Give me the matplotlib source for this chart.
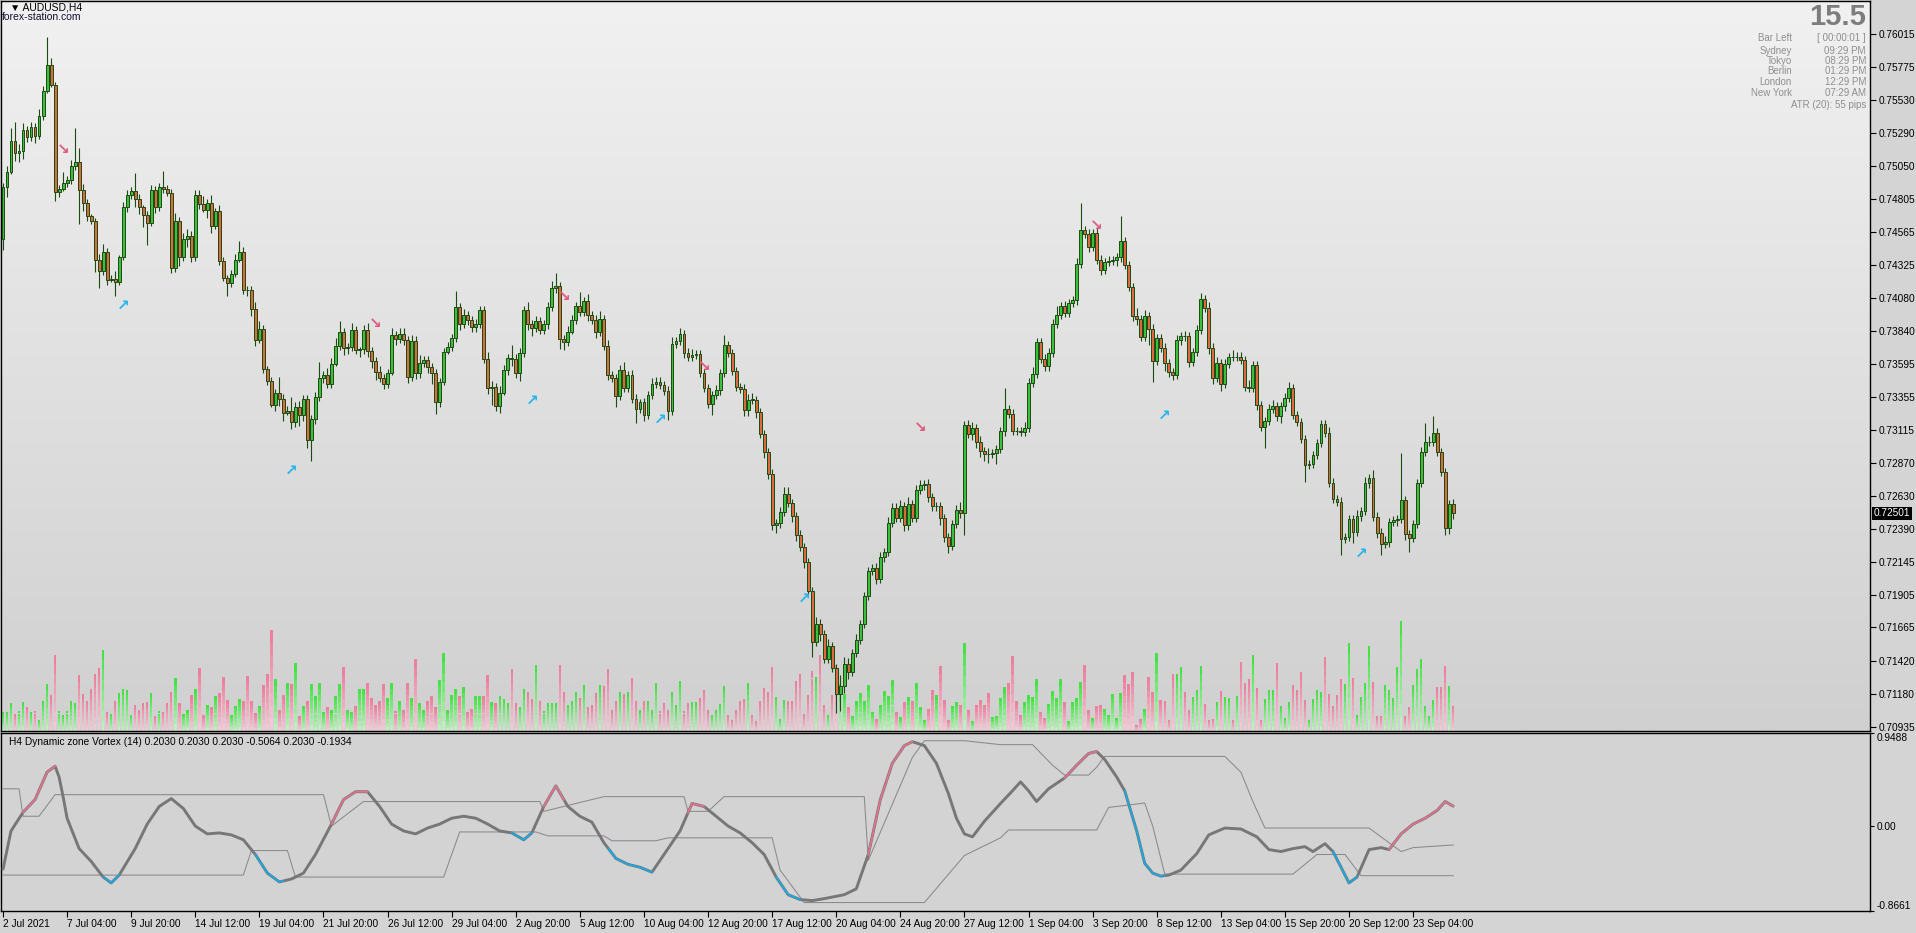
import numpy as np
import matplotlib
matplotlib.use("Agg")
import matplotlib.pyplot as plt
import matplotlib.transforms as mtransforms
from matplotlib.colors import to_rgb

plt.rcParams['font.family'] = ['Liberation Sans', 'DejaVu Sans']

# ---- price data (AUDUSD H4), closes in 1e-5 units, open of bar 0 ----
OPEN0 = 74515
CLOSE = [
    74891, 75006, 75228, 75146, 75159, 75313, 75261, 75333, 75267, 75415, 75594, 75791, 75644, 74858, 74881, 74924, 74947, 75048, 75078, 74875,
    74776, 74678, 74646, 74361, 74276, 74417, 74214, 74220, 74194, 74377, 74744, 74832, 74865, 74809, 74744, 74688, 74629, 74868, 74750, 74891,
    74881, 74848, 74302, 74646, 74384, 74515, 74538, 74384, 74832, 74770, 74727, 74776, 74606, 74718, 74351, 74227, 74188, 74253, 74361, 74417,
    74138, 74135, 74001, 73769, 73851, 73559, 73474, 73298, 73383, 73337, 73239, 73255, 73173, 73278, 73222, 73337, 73042, 73190, 73353, 73494,
    73517, 73451, 73599, 73729, 73828, 73713, 73720, 73844, 73697, 73703, 73844, 73690, 73615, 73540, 73491, 73451, 73533, 73811, 73779, 73818,
    73769, 73500, 73762, 73533, 73605, 73625, 73572, 73533, 73320, 73461, 73687, 73720, 73788, 74014, 73893, 73958, 73919, 73864, 73893, 73991,
    73631, 73419, 73428, 73288, 73386, 73549, 73638, 73631, 73533, 73680, 73991, 73886, 73860, 73909, 73844, 73886, 74014, 74155, 74165, 73779,
    73756, 73834, 73919, 74024, 73975, 74057, 73952, 73919, 73834, 73926, 73729, 73517, 73491, 73363, 73549, 73419, 73513, 73343, 73265, 73320,
    73222, 73370, 73451, 73461, 73442, 73396, 73255, 73746, 73762, 73818, 73680, 73648, 73664, 73670, 73533, 73419, 73304, 73370, 73402, 73533,
    73736, 73678, 73544, 73426, 73416, 73256, 73335, 73333, 73243, 73081, 72950, 72793, 72418, 72431, 72510, 72641, 72578, 72479, 72342, 72256,
    72143, 71934, 71557, 71688, 71615, 71431, 71531, 71366, 71175, 71235, 71400, 71340, 71478, 71575, 71688, 71895, 72081, 72099, 72020, 72185,
    72217, 72434, 72544, 72465, 72552, 72413, 72570, 72465, 72670, 72706, 72714, 72623, 72552, 72557, 72465, 72329, 72264, 72426, 72526, 72505,
    73146, 73086, 73128, 73028, 72955, 72937, 72934, 72942, 72971, 73102, 73269, 73233, 73107, 73104, 73099, 73128, 73460, 73521, 73754, 73630,
    73578, 73675, 73887, 73958, 74018, 73971, 74044, 74062, 74332, 74578, 74547, 74455, 74555, 74358, 74285, 74343, 74350, 74356, 74377, 74500,
    74324, 74159, 73945, 73924, 73795, 73945, 73853, 73617, 73788, 73717, 73604, 73534, 73518, 73769, 73801, 73798, 73612, 73683, 73845, 74070,
    74010, 73717, 73492, 73604, 73447, 73596, 73649, 73646, 73651, 73623, 73429, 73421, 73586, 73298, 73133, 73178, 73264, 73290, 73217, 73285,
    73350, 73421, 73225, 73172, 73049, 72858, 72863, 72929, 73015, 73159, 73094, 72727, 72604, 72588, 72314, 72327, 72458, 72366, 72484, 72518,
    72727, 72761, 72473, 72361, 72274, 72295, 72439, 72452, 72458, 72596, 72348, 72321, 72426, 72722, 72950, 73023, 73028, 73094, 72950, 72806,
    72392, 72570, 72501,
]
# upper / lower wicks in pips
WICK_UP = [
    3, 4, 10, 14, 5, 5, 3, 4, 3, 5, 4, 20, 5, 2, 3, 8, 3, 4, 25, 10,
    4, 3, 2, 2, 4, 6, 3, 3, 6, 2, 4, 4, 3, 13, 3, 2, 3, 4, 3, 3,
    12, 3, 3, 6, 3, 4, 5, 3, 4, 4, 6, 3, 6, 2, 4, 3, 2, 3, 4, 8,
    4, 3, 3, 5, 6, 3, 2, 3, 3, 12, 4, 3, 10, 4, 5, 3, 3, 3, 4, 12,
    3, 5, 4, 6, 8, 3, 3, 5, 3, 2, 4, 5, 3, 3, 4, 3, 3, 5, 3, 4,
    4, 3, 5, 4, 6, 3, 3, 3, 3, 3, 3, 4, 3, 12, 3, 4, 3, 3, 3, 3,
    3, 5, 4, 3, 5, 4, 3, 10, 4, 3, 3, 6, 3, 4, 3, 3, 4, 5, 10, 3,
    3, 4, 4, 3, 10, 3, 5, 3, 4, 6, 3, 4, 3, 3, 4, 6, 3, 4, 3, 2,
    3, 3, 4, 4, 4, 3, 4, 5, 3, 4, 3, 3, 4, 3, 3, 3, 3, 3, 4, 3,
    7, 3, 3, 3, 3, 3, 4, 5, 3, 3, 3, 3, 3, 3, 4, 5, 5, 3, 3, 4,
    3, 3, 3, 5, 4, 3, 5, 3, 3, 8, 5, 4, 3, 4, 3, 3, 3, 3, 4, 3,
    3, 4, 3, 3, 5, 3, 5, 3, 4, 4, 3, 4, 3, 3, 3, 3, 3, 3, 4, 6,
    3, 4, 4, 3, 4, 3, 4, 3, 3, 3, 15, 3, 3, 3, 3, 4, 3, 5, 3, 3,
    4, 4, 4, 6, 3, 4, 3, 3, 4, 20, 3, 4, 3, 4, 4, 3, 4, 3, 3, 18,
    3, 3, 3, 6, 3, 5, 3, 4, 3, 3, 3, 3, 3, 4, 3, 4, 3, 3, 4, 5,
    3, 4, 3, 4, 3, 4, 3, 5, 3, 3, 3, 5, 3, 3, 3, 3, 4, 4, 3, 3,
    3, 4, 3, 3, 3, 3, 3, 3, 3, 3, 3, 4, 3, 3, 3, 3, 3, 3, 4, 3,
    4, 3, 6, 4, 3, 4, 3, 3, 3, 35, 3, 3, 3, 3, 4, 14, 4, 12, 3, 3,
    3, 3, 4,
]
WICK_DN = [
    8, 7, 2, 6, 7, 6, 4, 3, 5, 2, 3, 1, 2, 7, 4, 2, 3, 3, 3, 25,
    6, 3, 2, 9, 12, 3, 4, 2, 10, 2, 2, 3, 3, 6, 5, 9, 16, 2, 5, 3,
    3, 2, 4, 3, 7, 3, 6, 4, 3, 4, 2, 6, 5, 2, 3, 2, 9, 3, 2, 2,
    3, 4, 5, 4, 2, 3, 3, 2, 5, 5, 6, 2, 5, 4, 8, 4, 6, 16, 3, 3,
    4, 3, 3, 2, 3, 5, 4, 3, 3, 5, 3, 4, 5, 6, 3, 4, 3, 2, 4, 3,
    3, 4, 3, 5, 4, 3, 4, 8, 9, 4, 2, 2, 3, 3, 5, 3, 4, 3, 3, 3,
    3, 4, 12, 4, 5, 2, 3, 5, 4, 6, 3, 4, 6, 3, 3, 3, 3, 3, 4, 7,
    6, 3, 2, 3, 3, 3, 4, 3, 5, 3, 3, 4, 3, 8, 3, 3, 3, 3, 10, 3,
    4, 3, 3, 3, 3, 3, 7, 3, 3, 3, 4, 3, 3, 3, 3, 3, 3, 8, 3, 3,
    3, 3, 3, 3, 3, 4, 4, 3, 4, 3, 4, 4, 4, 6, 4, 3, 3, 4, 4, 3,
    4, 4, 11, 3, 5, 3, 3, 3, 14, 12, 5, 5, 3, 3, 3, 3, 3, 3, 4, 3,
    4, 3, 3, 3, 3, 4, 3, 3, 3, 3, 3, 4, 3, 3, 5, 4, 5, 3, 3, 4,
    16, 3, 5, 5, 4, 5, 6, 3, 8, 3, 3, 3, 3, 3, 3, 3, 3, 3, 3, 3,
    3, 3, 3, 3, 3, 3, 3, 3, 3, 3, 3, 4, 3, 3, 4, 3, 3, 3, 4, 3,
    3, 3, 3, 4, 3, 3, 12, 15, 3, 3, 6, 3, 4, 3, 3, 3, 4, 3, 3, 3,
    3, 5, 4, 3, 5, 3, 3, 3, 3, 3, 3, 3, 3, 4, 3, 15, 3, 3, 4, 5,
    3, 3, 3, 3, 3, 13, 3, 3, 3, 3, 3, 3, 3, 3, 12, 3, 3, 8, 3, 4,
    3, 4, 3, 4, 8, 3, 4, 3, 4, 3, 4, 10, 3, 3, 3, 3, 3, 3, 3, 3,
    5, 4, 4,
]
# tick volume, hundreds
VOLUME = [
    19,
    19, 28, 17, 20, 29, 24, 19, 20, 11, 30, 47, 36, 76, 20, 16, 20, 30, 28, 56, 37,
    30, 42, 57, 63, 81, 19, 17, 30, 38, 42, 41, 16, 26, 21, 28, 29, 38, 15, 20, 19,
    28, 39, 53, 28, 17, 21, 36, 42, 63, 16, 26, 24, 35, 38, 54, 31, 16, 25, 32, 30,
    55, 30, 18, 25, 46, 57, 101, 52, 21, 36, 48, 47, 68, 15, 25, 30, 47, 35, 48, 19,
    24, 21, 35, 47, 64, 21, 19, 25, 42, 42, 48, 33, 26, 30, 47, 33, 48, 20, 30, 21,
    48, 33, 72, 28, 21, 30, 35, 24, 51, 78, 21, 36, 42, 35, 44, 19, 22, 35, 35, 35,
    56, 29, 28, 35, 32, 28, 62, 28, 24, 42, 39, 32, 66, 30, 20, 28, 28, 28, 66, 39,
    26, 30, 39, 33, 46, 24, 26, 38, 46, 45, 62, 21, 30, 39, 37, 39, 53, 30, 21, 30,
    30, 21, 48, 20, 28, 21, 39, 26, 50, 20, 28, 29, 29, 33, 41, 21, 16, 21,
    27, 45, 16, 11, 21, 30, 32, 48, 16, 10, 30, 43, 39, 64, 34, 12, 31, 30, 30, 50,
    57, 17, 36, 60, 54, 76, 26, 16, 36, 66, 47, 37, 24, 15, 30, 38, 30, 46, 19, 12,
    26, 40, 35, 51, 19, 14, 29, 34, 30, 48, 24, 11, 22, 41, 36, 65, 31, 11, 25, 29,
    26, 88, 21, 10, 26, 31, 26, 38, 14, 15, 33, 44, 48, 75, 30, 16, 29, 36, 34, 52,
    19, 13, 27, 40, 33, 52, 29, 10, 29, 33, 49, 66, 21, 13, 25, 26, 22, 16, 37, 13,
    38, 56, 47, 59, 6, 12, 22, 54, 39, 78, 31, 30, 11, 57, 57, 64, 39, 21, 34, 41,
    65, 27, 11, 12, 29, 40, 34, 33, 11, 35, 69, 48, 52, 76, 43, 11, 32, 41, 41, 68,
    25, 13, 29, 46, 41, 59, 31, 11, 32, 41, 39, 74, 37, 25, 36, 52, 47, 88, 53, 16,
    34, 48, 85, 49, 15, 15, 46, 41, 33, 64, 110, 15, 24, 46, 62, 72, 25, 15, 31, 44,
    44, 65, 45, 25,
]

# signal arrows (bar, price)
SELL_BARS = [15, 93, 140, 175, 229, 273]
SELL_PRICES = [0.75172, 0.73890, 0.74088, 0.73577, 0.73130, 0.74608]
BUY_BARS = [30, 72, 132, 164, 200, 290, 339]
BUY_PRICES = [0.74026, 0.72818, 0.73328, 0.73194, 0.71878, 0.73222, 0.72211]

# ---- Dynamic zone Vortex (bar, value) ----
OSC = [(0, -0.44), (2, -0.05), (5, 0.14), (8, 0.27), (11, 0.55), (13, 0.61), (14, 0.50), (15, 0.30), (16, 0.08),
       (19, -0.23), (22, -0.36), (25, -0.52), (27, -0.58), (29, -0.50), (33, -0.23), (36, 0.02), (39, 0.20),
       (42, 0.28), (45, 0.18), (48, 0.00), (51, -0.08), (54, -0.07), (57, -0.09), (60, -0.14), (63, -0.29),
       (66, -0.48), (69, -0.57), (72, -0.54), (75, -0.48), (78, -0.29), (82, 0.02), (85, 0.27), (88, 0.35),
       (91, 0.35), (94, 0.20), (97, 0.02), (100, -0.05), (103, -0.08), (106, -0.02), (109, 0.02), (112, 0.08),
       (115, 0.10), (118, 0.08), (121, 0.02), (124, -0.05), (127, -0.07), (130, -0.14), (132, -0.07), (135, 0.20),
       (138, 0.41), (141, 0.20), (144, 0.10), (147, 0.04), (150, -0.17), (153, -0.33), (156, -0.39), (159, -0.42),
       (162, -0.47), (165, -0.29), (169, -0.05), (172, 0.23), (175, 0.20), (178, 0.10), (181, 0.00), (184, -0.07),
       (187, -0.17), (190, -0.29), (193, -0.52), (196, -0.70), (199, -0.75), (202, -0.76), (205, -0.74), (210, -0.70),
       (213, -0.64), (216, -0.29), (219, 0.27), (222, 0.64), (225, 0.82), (227, 0.86), (230, 0.82), (233, 0.64),
       (236, 0.33), (238, 0.08), (240, -0.08), (242, -0.11), (245, 0.05), (249, 0.23), (252, 0.36), (254, 0.45),
       (256, 0.36), (258, 0.25), (261, 0.38), (265, 0.49), (268, 0.62), (271, 0.74), (273, 0.76), (275, 0.68),
       (278, 0.50), (280, 0.36), (283, -0.05), (285, -0.38), (287, -0.48), (289, -0.51), (291, -0.50), (294, -0.45),
       (298, -0.28), (301, -0.09), (305, -0.02), (309, -0.03), (313, -0.11), (316, -0.24), (319, -0.26), (322, -0.23),
       (325, -0.21), (327, -0.26), (330, -0.18), (332, -0.26), (334, -0.42), (336, -0.58), (338, -0.52), (341, -0.24),
       (344, -0.22), (346, -0.24), (349, -0.08), (352, 0.02), (355, 0.08), (358, 0.16), (360, 0.25), (362, 0.203)]
UPPER_ZONE = [(0, 0.38), (4, 0.38), (5, 0.10), (9, 0.10), (13, 0.32), (80, 0.32), (82, 0.00), (90, 0.25), (134, 0.25),
              (135, 0.15), (140, 0.20), (150, 0.30), (170, 0.30), (171, 0.15), (176, 0.15), (180, 0.30), (215, 0.30),
              (216, -0.35), (227, 0.70), (230, 0.87), (240, 0.87), (249, 0.83), (257, 0.83), (262, 0.62), (265, 0.52),
              (271, 0.52), (273, 0.60), (275, 0.71), (305, 0.71), (309, 0.55), (312, 0.25), (315, -0.02), (341, -0.02),
              (346, -0.17), (349, -0.26), (352, -0.22), (362, -0.193)]
LOWER_ZONE = [(0, -0.50), (60, -0.50), (62, -0.25), (71, -0.25), (73, -0.52), (110, -0.52), (114, -0.06), (133, -0.06),
              (136, -0.10), (150, -0.10), (152, -0.15), (163, -0.15), (166, -0.12), (192, -0.12), (194, -0.45),
              (200, -0.78), (230, -0.78), (240, -0.30), (249, -0.12), (251, -0.04), (273, -0.04), (276, 0.19),
              (285, 0.235), (287, 0.0), (290, -0.49), (322, -0.49), (328, -0.29), (335, -0.29), (339, -0.506), (362, -0.506)]
PINK_RANGES = [(5, 13), (82, 91), (135, 140), (171, 175), (216, 227), (265, 273), (346, 362)]
BLUE_RANGES = [(25, 29), (63, 70), (127, 132), (151, 162), (193, 199), (280, 290), (332, 338)]

PRICE_TICKS = [0.76015, 0.75775, 0.75530, 0.75290, 0.75050, 0.74805, 0.74565, 0.74325, 0.74080, 0.73840, 0.73595,
               0.73355, 0.73115, 0.72870, 0.72630, 0.72390, 0.72145, 0.71905, 0.71665, 0.71420, 0.71180, 0.70935]
DATE_LABELS = ['2 Jul 2021', '7 Jul 04:00', '9 Jul 20:00', '14 Jul 12:00', '19 Jul 04:00', '21 Jul 20:00',
               '26 Jul 12:00', '29 Jul 04:00', '2 Aug 20:00', '5 Aug 12:00', '10 Aug 04:00', '12 Aug 20:00',
               '17 Aug 12:00', '20 Aug 04:00', '24 Aug 20:00', '27 Aug 12:00', '1 Sep 04:00', '3 Sep 20:00',
               '8 Sep 12:00', '13 Sep 04:00', '15 Sep 20:00', '20 Sep 12:00', '23 Sep 04:00']
SESSIONS = ['Bar Left', 'Sydney', 'Tokyo', 'Berlin', 'London', 'New York']
SESSION_TIMES = ['[ 00:00:01 ]', '09:29 PM', '08:29 PM', '01:29 PM', '12:29 PM', '07:29 AM']

# ---- layout (pixels) ----
W, H = 1916, 933
fig = plt.figure(figsize=(W / 100, H / 100), dpi=100)
fig.patch.set_facecolor('#d4d4d4')


def px_axes(x0, y0, x1, y1):
    return fig.add_axes([x0 / W, 1 - y1 / H, (x1 - x0) / W, (y1 - y0) / H])


ax = px_axes(1, 1, 1870, 731)
axi = px_axes(1, 733, 1870, 911)

n = len(CLOSE)
x = np.arange(n)
c = np.array(CLOSE) / 1e5
o = np.r_[OPEN0 / 1e5, c[:-1]]
hi = np.maximum(o, c) + np.array(WICK_UP[:n]) * 1e-4
lo = np.minimum(o, c) - np.array(WICK_DN[:n]) * 1e-4
bull = c >= o

xmin = -0.5
xmax = xmin + 1869 / 4.006
p_lo, p_hi = 0.70906, 0.76257

# background gradient
grad = np.linspace(0, 1, 256)[:, None]
top, bot = np.array(to_rgb('#f1f1f1')), np.array(to_rgb('#d0d0d0'))
img = top[None, None, :] * (1 - grad[:, :, None]) + bot[None, None, :] * grad[:, :, None]
ax.imshow(img, extent=[0, 1, 0, 1], transform=ax.transAxes, aspect='auto', zorder=0)

# volumes, drawn from the bottom of the price pane
vol = np.array(VOLUME[:n], dtype=float)
vscale = (p_hi - p_lo) / 730.0
vh = vol * vscale
nseg = 8
g_top, g_bot = np.array(to_rgb('#3ee03e')), np.array(to_rgb('#c8efc8'))
r_top, r_bot = np.array(to_rgb('#ea7b9b')), np.array(to_rgb('#f3cdd8'))
for j in range(nseg):
    t = (j + 0.5) / nseg
    cg = g_bot * (1 - t) + g_top * t
    cr = r_bot * (1 - t) + r_top * t
    cols = [cg if b else cr for b in bull]
    ax.bar(x, vh / nseg, bottom=p_lo + vh * j / nseg, width=0.62, color=cols, linewidth=0, zorder=1)

# candles
edge = '#1d4a12'
ax.vlines(x, lo, hi, color=edge, lw=0.8, zorder=3)
body = np.maximum(np.abs(c - o), 0.00003)
ax.bar(x, body, bottom=np.minimum(o, c), width=0.72,
       color=np.where(bull, '#3cbf3c', '#dc6a3f'), edgecolor=edge, linewidth=0.7, zorder=4)

# arrows
for b, p in zip(SELL_BARS, SELL_PRICES):
    ax.text(b, p, '\u2198', color='#dd5c80', fontsize=11, fontweight='bold', ha='center', va='center',
            family='DejaVu Sans', zorder=5)
for b, p in zip(BUY_BARS, BUY_PRICES):
    ax.text(b, p, '\u2197', color='#28b4ec', fontsize=11, fontweight='bold', ha='center', va='center',
            family='DejaVu Sans', zorder=5)

ax.set_xlim(xmin, xmax)
ax.set_ylim(p_lo, p_hi)
ax.set_xticks([])
ax.yaxis.tick_right()
ax.set_yticks(PRICE_TICKS)
ax.set_yticklabels(['%.5f' % v for v in PRICE_TICKS])
ax.tick_params(axis='y', length=4, width=0.8, labelsize=7.3, pad=2, colors='black')
for s in ax.spines.values():
    s.set_linewidth(1.0)
    s.set_color('black')

# current price marker
trans = mtransforms.blended_transform_factory(ax.transAxes, ax.transData)
ax.text(1.0 + 4 / 1869, c[-1], '%.5f' % c[-1], transform=trans, color='white', fontsize=7.3,
        ha='left', va='center', bbox=dict(fc='black', ec='none', pad=1.2), zorder=6, clip_on=False)

# ---- indicator pane ----
axi.set_facecolor('#d3d3d3')
ob = np.array([p[0] for p in OSC])
ov = np.array([p[1] for p in OSC])
for zone in (UPPER_ZONE, LOWER_ZONE):
    axi.plot([p[0] for p in zone], [p[1] for p in zone], color='#8a8a8a', lw=0.75, zorder=2)
axi.plot(ob, ov, color='#777777', lw=2.1, solid_capstyle='round', zorder=3)


def segment(a, b):
    xs = np.union1d(ob[(ob >= a) & (ob <= b)], [a, b])
    return xs, np.interp(xs, ob, ov)


for a, b in PINK_RANGES:
    sx, sy = segment(a, b)
    axi.plot(sx, sy, color='#e0728f', lw=1.3, zorder=4)
for a, b in BLUE_RANGES:
    sx, sy = segment(a, b)
    axi.plot(sx, sy, color='#1aa8e2', lw=1.3, zorder=4)

axi.set_xlim(xmin, xmax)
axi.set_ylim(-0.8661, 0.9488)
axi.yaxis.tick_right()
axi.set_yticks([0.9488, 0.0, -0.8661])
axi.set_yticklabels(['0.9488', '0.00', '-0.8661'])
axi.tick_params(axis='y', length=3, width=0.8, labelsize=7.3, pad=2)
ylabs = axi.get_yticklabels()
ylabs[0].set_va('top')
ylabs[2].set_va('bottom')
axi.set_xticks(np.arange(0, 16 * len(DATE_LABELS), 16))
axi.set_xticklabels(DATE_LABELS, ha='left')
axi.tick_params(axis='x', length=4, width=0.8, labelsize=7.3, pad=2)
for s in axi.spines.values():
    s.set_linewidth(1.0)
    s.set_color('black')
axi.text(8 / 1869, 1 - 9 / 178, 'H4 Dynamic zone Vortex (14) 0.2030 0.2030 0.2030 -0.5064 0.2030 -0.1934',
         transform=axi.transAxes, fontsize=7.3, va='center', ha='left')

# ---- header texts ----
fig.text(10 / W, 1 - 8 / H, '\u25bc AUDUSD,H4', fontsize=7.5, va='center', ha='left',
         family=['Liberation Sans', 'DejaVu Sans'])
fig.text(2 / W, 1 - 17 / H, 'forex-station.com', fontsize=7.5, va='center', ha='left', color='#101030')
fig.text(1866 / W, 1 - 17 / H, '15.5', fontsize=21, fontweight='bold', color='#7d7d7d', ha='right', va='center')
row_y = [38, 51, 61, 71, 82, 93]
for yy, lab, val in zip(row_y, SESSIONS, SESSION_TIMES):
    fig.text(1792 / W, 1 - yy / H, lab, fontsize=7, color='#8f8f8f', ha='right', va='center')
    fig.text(1866 / W, 1 - yy / H, val, fontsize=7, color='#8f8f8f', ha='right', va='center')
fig.text(1866 / W, 1 - 105 / H, 'ATR (20): 55 pips', fontsize=7, color='#8f8f8f', ha='right', va='center')

fig.savefig('out.png', dpi=100, facecolor=fig.get_facecolor())
